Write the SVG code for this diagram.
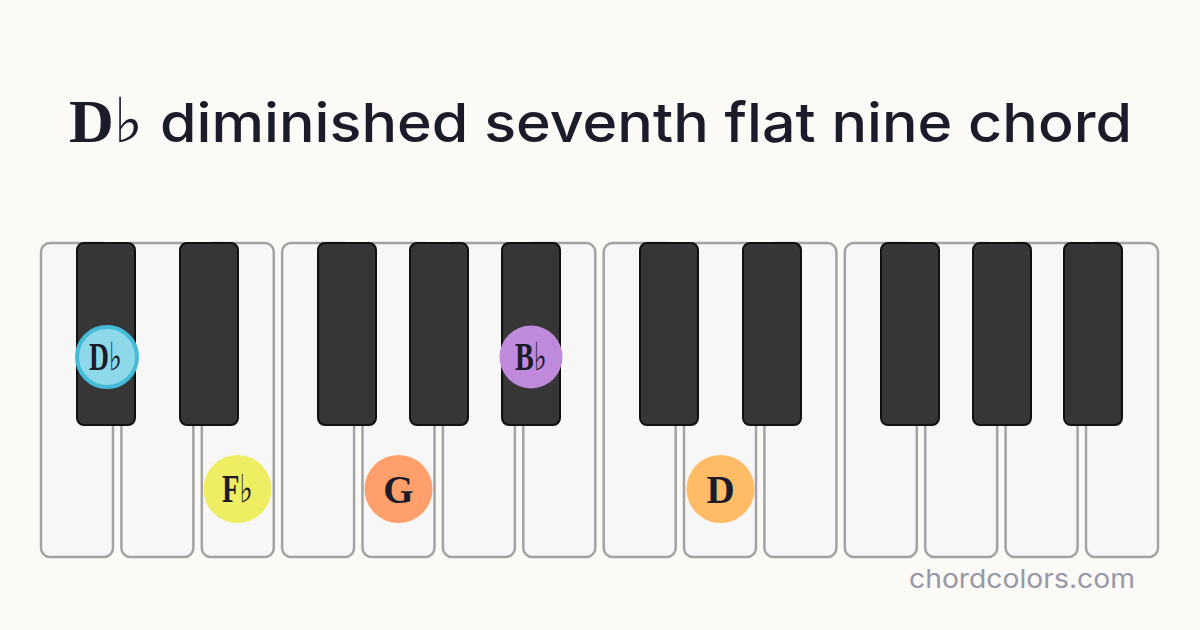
<svg xmlns="http://www.w3.org/2000/svg" width="1200" height="630" viewBox="0 0 1200 630">
<style>
.wk{fill:#f7f7f7;stroke:#a3a3a3;stroke-width:2.5}
.bk{fill:#363636;stroke:#111111;stroke-width:2}
.lbl{font-family:"Liberation Serif","DejaVu Serif",serif;font-weight:bold;font-size:39px;fill:#1c1b29;text-anchor:middle}
</style>
<rect width="1200" height="630" fill="#fbfaf7"/>
<g id="title">
<text x="69" y="142" font-family="Liberation Serif, DejaVu Serif, serif" font-weight="bold" font-size="62" fill="#1c1b29">D♭</text>
<text x="160" y="142" font-family="Inter, 'Open Sans', sans-serif" font-weight="500" font-size="54" fill="#1c1b29" textLength="972" lengthAdjust="spacingAndGlyphs">diminished seventh flat nine chord</text>
</g>
<g id="white-keys">
<rect class="wk" x="41" y="243" width="72" height="314" rx="9"/>
<rect class="wk" x="121.4" y="243" width="72" height="314" rx="9"/>
<rect class="wk" x="201.8" y="243" width="72" height="314" rx="9"/>
<rect class="wk" x="282.1" y="243" width="72" height="314" rx="9"/>
<rect class="wk" x="362.5" y="243" width="72" height="314" rx="9"/>
<rect class="wk" x="442.9" y="243" width="72" height="314" rx="9"/>
<rect class="wk" x="523.3" y="243" width="72" height="314" rx="9"/>
<rect class="wk" x="603.7" y="243" width="72" height="314" rx="9"/>
<rect class="wk" x="684" y="243" width="72" height="314" rx="9"/>
<rect class="wk" x="764.4" y="243" width="72" height="314" rx="9"/>
<rect class="wk" x="844.8" y="243" width="72" height="314" rx="9"/>
<rect class="wk" x="925.2" y="243" width="72" height="314" rx="9"/>
<rect class="wk" x="1005.6" y="243" width="72" height="314" rx="9"/>
<rect class="wk" x="1086" y="243" width="72" height="314" rx="9"/>
</g>
<g id="white-top-fill" fill="#f7f7f7">
<rect x="112" y="244.5" width="10" height="179"/>
<rect x="192" y="244.5" width="10" height="179"/>
<rect x="353" y="244.5" width="10" height="179"/>
<rect x="433" y="244.5" width="10" height="179"/>
<rect x="514" y="244.5" width="10" height="179"/>
<rect x="675" y="244.5" width="10" height="179"/>
<rect x="755" y="244.5" width="10" height="179"/>
<rect x="916" y="244.5" width="10" height="179"/>
<rect x="996" y="244.5" width="10" height="179"/>
<rect x="1077" y="244.5" width="10" height="179"/>
</g>
<g id="black-keys">
<rect class="bk" x="77" y="243" width="58" height="182" rx="7"/>
<rect class="bk" x="180" y="243" width="58" height="182" rx="7"/>
<rect class="bk" x="318" y="243" width="58" height="182" rx="7"/>
<rect class="bk" x="410" y="243" width="58" height="182" rx="7"/>
<rect class="bk" x="502" y="243" width="58" height="182" rx="7"/>
<rect class="bk" x="640" y="243" width="58" height="182" rx="7"/>
<rect class="bk" x="743" y="243" width="58" height="182" rx="7"/>
<rect class="bk" x="881" y="243" width="58" height="182" rx="7"/>
<rect class="bk" x="973" y="243" width="58" height="182" rx="7"/>
<rect class="bk" x="1064" y="243" width="58" height="182" rx="7"/>
</g>
<g id="note-Db">
<circle cx="107" cy="357" r="30" fill="#8dd9ea" stroke="#44bbd9" stroke-width="4"/>
<text class="lbl" x="105.5" y="370" textLength="33" lengthAdjust="spacingAndGlyphs">D♭</text>
</g>
<g id="note-Fb">
<circle cx="237.5" cy="489" r="34" fill="#eeee62"/>
<text class="lbl" x="237.5" y="502" textLength="31" lengthAdjust="spacingAndGlyphs">F♭</text>
</g>
<g id="note-G">
<circle cx="398.5" cy="489" r="34" fill="#ffa06c"/>
<text class="lbl" x="398.5" y="503">G</text>
</g>
<g id="note-Bb">
<circle cx="531" cy="357" r="31.5" fill="#c08adc"/>
<text class="lbl" x="531" y="370" textLength="32" lengthAdjust="spacingAndGlyphs">B♭</text>
</g>
<g id="note-D">
<circle cx="720.5" cy="489" r="34" fill="#ffbb66"/>
<text class="lbl" x="720.5" y="503">D</text>
</g>
<g id="connectors"></g>
<text x="909" y="588" font-family="Inter, 'Open Sans', sans-serif" font-size="26" fill="#9898a6" textLength="226" lengthAdjust="spacingAndGlyphs">chordcolors.com</text>
</svg>
